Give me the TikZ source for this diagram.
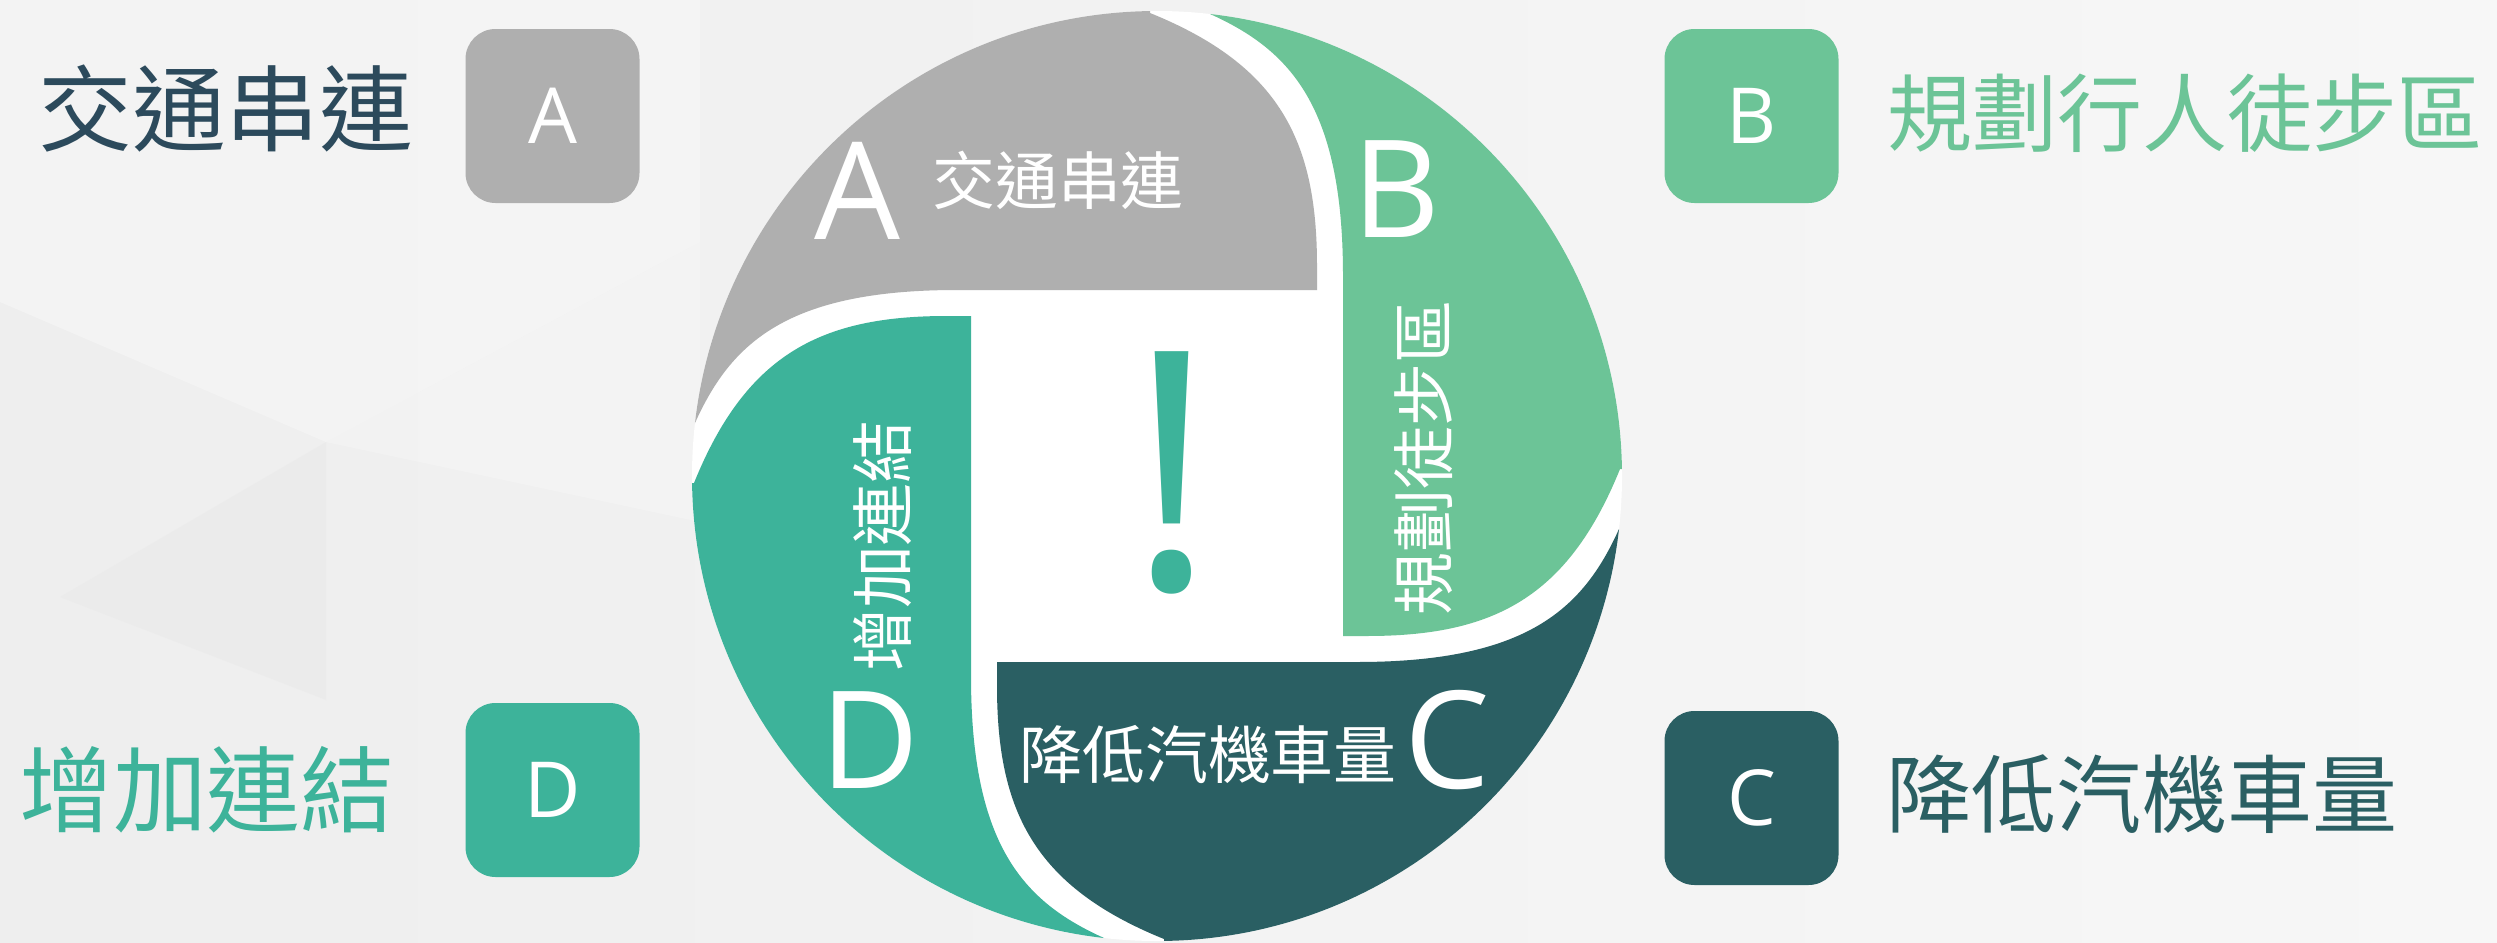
\documentclass[tikz,border=0pt]{standalone}
\usepackage{fontspec}
\setmainfont{Open Sans}
\newfontfamily\cjk{Noto Sans CJK TC}
\definecolor{cA}{HTML}{AFAFAF}
\definecolor{cB}{HTML}{6CC497}
\definecolor{cC}{HTML}{2A5F63}
\definecolor{cD}{HTML}{3DB39A}
\definecolor{cT}{HTML}{2C4A5C}
\definecolor{bgL}{HTML}{EEEEEE}
\definecolor{bgR}{HTML}{F7F7F7}
\definecolor{bgDark}{HTML}{E6E6E6}
\definecolor{bgLight}{HTML}{F8F8F8}
\tikzset{
  pt/.style={inner sep=0pt, outer sep=0pt},
  bigletter/.style={pt, text=white, font=\fontsize{38.6}{38.6}\selectfont},
  incjk/.style={pt, text=white, font=\cjk\fontsize{17.9}{17.9}\selectfont},
  sideL/.style={pt, font=\cjk\fontsize{26.7}{26.7}\selectfont},
  sideR/.style={pt, font=\cjk\fontsize{24.2}{24.2}\selectfont},
  keybox/.style={pt, rounded corners=3mm, minimum width=17.4mm, minimum height=17.4mm,
    text=white, font=\fontsize{22}{22}\selectfont},
}
\begin{document}
\begin{tikzpicture}[x=0.1mm, y=0.1mm]
\useasboundingbox (0,0) rectangle (2497,942);
% background
\shade[left color=bgL, right color=bgR] (0,0) rectangle (2497,942);
\fill[bgDark, opacity=0.35] (60,345) -- (326,500) -- (326,242) -- cycle;
\fill[bgLight, opacity=0.5] (0,640) -- (326,500) -- (700,700) -- (700,942) -- (0,942) -- cycle;
\fill[bgLight, opacity=0.4] (326,500) -- (700,420) -- (700,700) -- cycle;
% pinwheel
\begin{scope}[shift={(1157,466)}]
  \fill[white] (0,0) circle[radius=465];
  \begin{scope}
    \clip (0,0) circle[radius=465];
    \foreach \ang/\col in {0/cA,90/cD,180/cC,270/cB}{
      \fill[\col, rotate=\ang] (160,186) -- (160,210)
        .. controls (160,335) and (122.8,410.5) .. (-7,463)
        -- (-7,600) -- (-600,600) -- (-600,53) -- (-462,53)
        .. controls (-426,133) and (-370,186) .. (-200,186) -- cycle;
    }
  \end{scope}
\end{scope}
% texts inside the circle
\node[bigletter] (la) at (857,751) {A};
\node[incjk] (ta) at (1058,762) {交通串連};
\node[bigletter] (lb) at (1396,753) {B};
\node[incjk, rotate=90] (tb) at (1424,484) {規劃徒步區};
\node[bigletter] (lc) at (1447,202) {C};
\node[incjk] (tc) at (1208,187) {降低汽機車量};
\node[bigletter] (ld) at (870,202) {D};
\node[incjk, rotate=90] (td) at (883,396) {增加連結};
\node[pt, text=cD, font=\fontsize{94.8}{94.8}\selectfont] (excl) at (1172,469) {!};
% side keys
\node[keybox, fill=cA] (boxA) at (552.5,826) {A};
\node[keybox, fill=cD] (boxD) at (552.5,152) {D};
\node[keybox, fill=cB] (boxB) at (1751.5,826) {B};
\node[keybox, fill=cC] (boxC) at (1751.5,144) {C};
\node[sideL, text=cT] (sA) at (226,833) {交通串連};
\node[sideL, text=cD] (sD) at (207,152) {增加連結};
\node[sideR, text=cB] (sB) at (2185,829) {規劃行人徒步區};
\node[sideR, text=cC] (sC) at (2142,148) {降低汽機車量};
\end{tikzpicture}
\end{document}
